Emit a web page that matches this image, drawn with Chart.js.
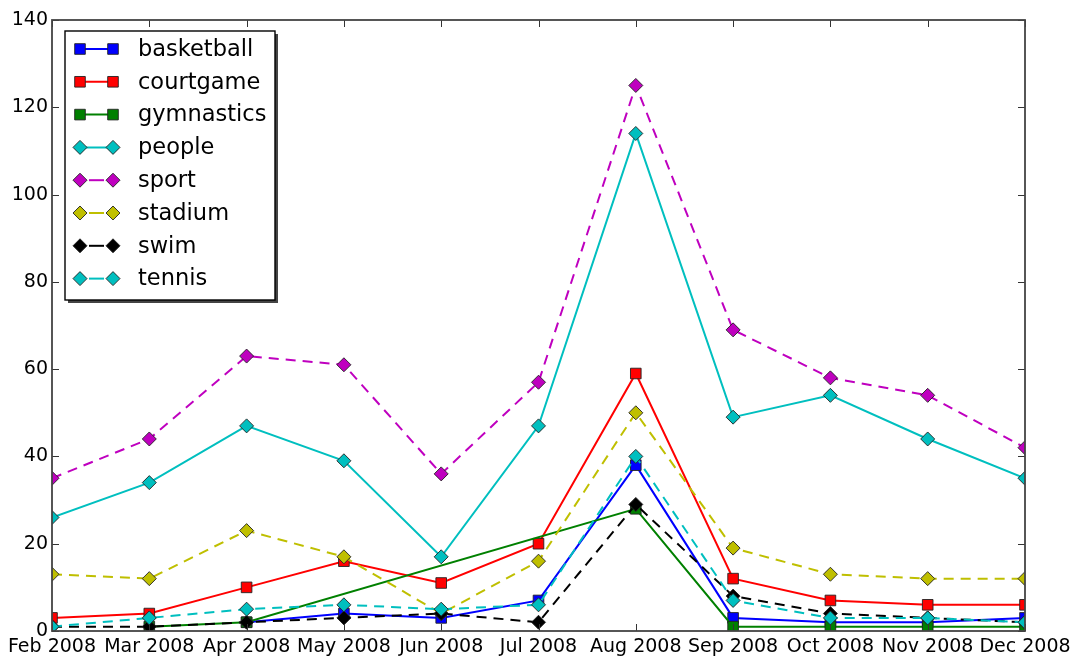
<!DOCTYPE html>
<html>
<head>
<meta charset="utf-8">
<script src="https://cdn.jsdelivr.net/npm/chart.js@4.4.0/dist/chart.umd.min.js"></script>
<style>
  html, body { margin: 0; background: #fff; }
  #wrap { width: 1073px; height: 658px; }
</style>
</head>
<body>
<div id="wrap"><canvas id="chart"></canvas></div>
<script>
const months = ["Feb 2008", "Mar 2008", "Apr 2008", "May 2008", "Jun 2008", "Jul 2008",
  "Aug 2008", "Sep 2008", "Oct 2008", "Nov 2008", "Dec 2008"];
const yTicks = [0, 20, 40, 60, 80, 100, 120, 140];

// monthly counts per tag (null = no data that month)
const basketball = [null, null, 2, 4, 3, 7, 38, 3, 2, 2, 3];
const courtgame = [3, 4, 10, 16, 11, 20, 59, 12, 7, 6, 6];
const gymnastics = [null, 1, 2, null, null, null, 28, 1, 1, 1, 1];
const people = [26, 34, 47, 39, 17, 47, 114, 49, 54, 44, 35];
const sport = [35, 44, 63, 61, 36, 57, 125, 69, 58, 54, 42];
const stadium = [13, 12, 23, 17, 4, 16, 50, 19, 13, 12, 12];
const swim = [1, 1, 2, 3, 4, 2, 29, 8, 4, 3, 2];
const tennis = [1, 3, 5, 6, 5, 6, 40, 7, 3, 3, 2];

const FONT = "DejaVu Sans";
const DASH = [10, 7];

function series(label, data, color, marker, dashed, idx) {
  return {
    label,
    data,
    borderColor: color,
    backgroundColor: color,
    borderWidth: 2,
    borderDash: dashed ? DASH : [],
    pointStyle: marker,
    pointRadius: marker === "rect" ? 7.5 : 7,
    pointHoverRadius: marker === "rect" ? 7.5 : 7,
    pointBackgroundColor: color,
    pointBorderColor: "#222",
    pointBorderWidth: 0.9,
    tension: 0,
    spanGaps: true,
    clip: 0,
    order: 10 - idx,
  };
}

const datasets = [
  series("basketball", basketball, "#0000ff", "rect", false, 0),
  series("courtgame", courtgame, "#ff0000", "rect", false, 1),
  series("gymnastics", gymnastics, "#008000", "rect", false, 2),
  series("people", people, "#00bfbf", "rectRot", false, 3),
  series("sport", sport, "#bf00bf", "rectRot", true, 4),
  series("stadium", stadium, "#bfbf00", "rectRot", true, 5),
  series("swim", swim, "#000000", "rectRot", true, 6),
  series("tennis", tennis, "#00bfbf", "rectRot", true, 7),
];

// box around the axes with inward tick marks on all four sides
const framePlugin = {
  id: "frame",
  afterDatasetsDraw(chart) {
    const { ctx, chartArea: a, scales } = chart;
    ctx.save();
    ctx.strokeStyle = "#333";
    ctx.lineWidth = 1;
    const len = 7;
    ctx.beginPath();
    yTicks.forEach((v) => {
      const y = Math.round(scales.y.getPixelForValue(v)) + 0.5;
      ctx.moveTo(a.left, y); ctx.lineTo(a.left + len, y);
      ctx.moveTo(a.right, y); ctx.lineTo(a.right - len, y);
    });
    months.forEach((m, i) => {
      const x = Math.round(scales.x.getPixelForValue(i)) + 0.5;
      ctx.moveTo(x, a.bottom); ctx.lineTo(x, a.bottom - len);
      ctx.moveTo(x, a.top); ctx.lineTo(x, a.top + len);
    });
    ctx.stroke();
    ctx.strokeStyle = "#444";
    ctx.lineWidth = 1.8;
    ctx.strokeRect(a.left, a.top, a.right - a.left, a.bottom - a.top);
    ctx.restore();
  },
};

// legend box with marker-line-marker samples
const legendPlugin = {
  id: "boxLegend",
  afterDraw(chart) {
    const { ctx } = chart;
    const x0 = 65, y0 = 31, w = 210, h = 269;
    ctx.save();
    ctx.fillStyle = "#444";
    ctx.fillRect(x0 + 3, y0 + 3, w, h);
    ctx.fillStyle = "#fff";
    ctx.fillRect(x0, y0, w, h);
    ctx.strokeStyle = "#000";
    ctx.lineWidth = 1.4;
    ctx.strokeRect(x0, y0, w, h);
    chart.data.datasets.forEach((ds, i) => {
      const y = 49 + i * 32.8;
      const xa = 80, xb = 113;
      ctx.beginPath();
      ctx.strokeStyle = ds.borderColor;
      ctx.lineWidth = ds.borderWidth;
      if (ds.borderDash.length) {
        ctx.moveTo(xa + 9, y); ctx.lineTo(xb - 9, y);
      } else {
        ctx.moveTo(xa, y); ctx.lineTo(xb, y);
      }
      ctx.stroke();
      [xa, xb].forEach((px) => {
        ctx.fillStyle = ds.pointBackgroundColor;
        ctx.strokeStyle = ds.pointBorderColor;
        ctx.lineWidth = ds.pointBorderWidth;
        Chart.helpers.drawPoint(ctx, { pointStyle: ds.pointStyle, radius: ds.pointRadius, borderWidth: ds.pointBorderWidth }, px, y);
      });
      ctx.fillStyle = "#000";
      ctx.font = `22.5px "${FONT}"`;
      ctx.textBaseline = "middle";
      ctx.fillText(ds.label, 138, y + 1);
    });
    ctx.restore();
  },
};

new Chart(document.getElementById("chart"), {
  type: "line",
  data: { labels: months, datasets },
  plugins: [framePlugin, legendPlugin],
  options: {
    responsive: true,
    maintainAspectRatio: false,
    animation: false,
    events: [],
    layout: { padding: { top: 20, right: 48, left: 0, bottom: 0 } },
    plugins: { legend: { display: false }, tooltip: { enabled: false } },
    scales: {
      x: {
        offset: false,
        grid: { display: false, drawTicks: false },
        border: { display: false },
        ticks: { color: "#000", font: { family: FONT, size: 19 }, padding: 5, maxRotation: 0, autoSkip: false },
        afterFit(scale) {
          scale.height = 27;
          scale.paddingLeft = 0;
          scale.paddingRight = 0;
        },
      },
      y: {
        min: 0,
        max: 140,
        grid: { display: false, drawTicks: false },
        border: { display: false },
        ticks: { stepSize: 20, color: "#000", font: { family: FONT, size: 19 }, padding: 4 },
        afterFit(scale) { scale.width = 52; },
      },
    },
  },
});
</script>
</body>
</html>
